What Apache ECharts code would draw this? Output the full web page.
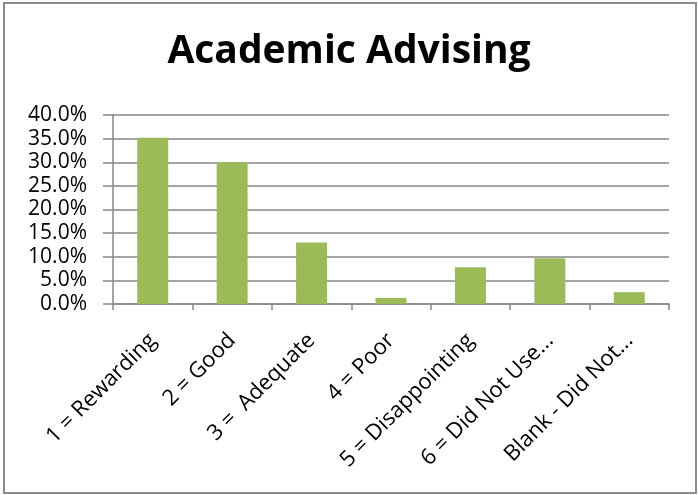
<!DOCTYPE html>
<html>
<head>
<meta charset="utf-8">
<script src="https://cdn.jsdelivr.net/npm/echarts@6/dist/echarts.min.js"></script>
<style>
html,body{margin:0;padding:0;background:#fff;}
#c{width:698px;height:495px;}
</style>
</head>
<body>
<div id="c"></div>
<script>
const titleText = 'Academic Advising';
const categories = ['1 = Rewarding', '2 = Good', '3 =  Adequate', '4 = Poor', '5 = Disappointing', '6 = Did Not Use...', 'Blank - Did Not...'];
const values = [35.2, 30.0, 13.0, 1.3, 7.8, 9.7, 2.5];
const yTicks = [0, 5, 10, 15, 20, 25, 30, 35, 40];

const chart = echarts.init(document.getElementById('c'), null, {renderer: 'canvas'});
chart.setOption({
  animation: false,
  backgroundColor: '#fff',
  title: {
    text: titleText,
    left: 'center',
    top: 27,
    textStyle: {fontFamily: 'Open Sans', fontWeight: 'bold', fontSize: 39, color: '#000'}
  },
  graphic: [{
    type: 'rect',
    shape: {x: 4, y: 3, width: 692, height: 490},
    style: {fill: 'none', stroke: '#8c8c8c', lineWidth: 2},
    silent: true
  }],
  grid: {left: 113, right: 29, top: 115, bottom: 191, containLabel: false},
  xAxis: {
    type: 'category',
    data: categories,
    axisLine: {lineStyle: {color: '#868686', width: 1.5}},
    axisTick: {show: true, alignWithLabel: false, length: 6, lineStyle: {color: '#868686', width: 1.5}},
    axisLabel: {rotate: 45, fontFamily: 'Open Sans', fontSize: 22, color: '#000', margin: 33, interval: 0}
  },
  yAxis: {
    type: 'value',
    min: yTicks[0],
    max: yTicks[yTicks.length - 1],
    interval: 5,
    axisLine: {show: true, lineStyle: {color: '#868686', width: 1.5}},
    axisTick: {show: true, length: 10, lineStyle: {color: '#868686', width: 1.5}},
    axisLabel: {fontFamily: 'Open Sans', fontSize: 21, color: '#000', margin: 26,
      formatter: v => v.toFixed(1) + '%'},
    splitLine: {lineStyle: {color: '#868686', width: 1.5}}
  },
  series: [{
    type: 'bar',
    data: values,
    barWidth: '39%',
    itemStyle: {color: '#9BBB59'}
  }]
});
</script>
</body>
</html>
